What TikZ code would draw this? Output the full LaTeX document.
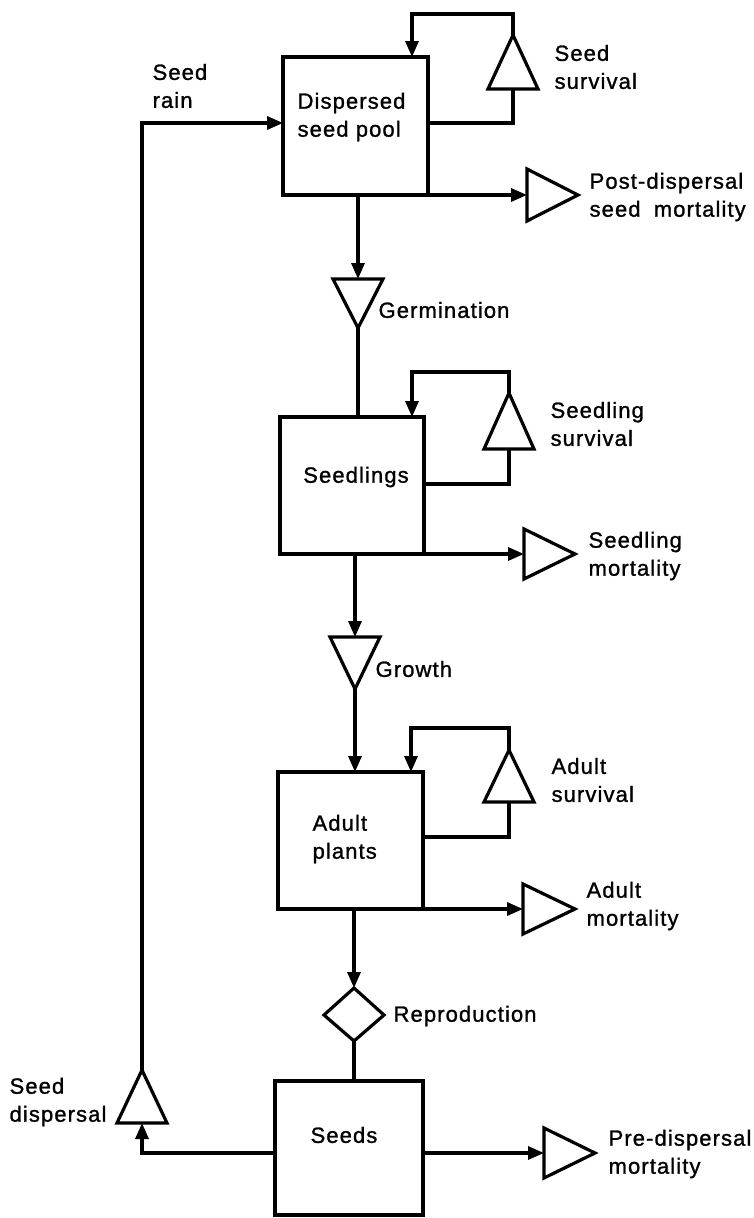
\documentclass[tikz,border=0pt]{standalone}
\usepackage{fontspec}
\setmainfont{Liberation Sans}[LetterSpace=5,FakeBold=1.2]
\usetikzlibrary{arrows.meta,calc}
\begin{document}
\begin{tikzpicture}[x=1pt,y=-1pt, line width=3.2pt, line join=miter,
  box/.style={draw, line width=3.2pt, inner sep=0pt, outer sep=0pt},
  lbl/.style={font=\fontsize{22}{28}\selectfont, anchor=west, align=left, inner sep=0pt},
  flow/.style={-{Triangle[length=16pt,width=13pt]}},
  tri/.style={draw, line width=3.2pt}]
\useasboundingbox (0,0) rectangle (754,1218);

% ---- boxes
\node[box, minimum width=145pt, minimum height=138pt] (pool)   at (355.5,126) {};
\node[box, minimum width=144pt, minimum height=137pt] (seedl)  at (352,485.5) {};
\node[box, minimum width=145pt, minimum height=137pt] (adult)  at (350.5,840.5) {};
\node[box, minimum width=148pt, minimum height=134pt] (seeds)  at (349,1148) {};

\node[lbl] (tpool)  at (296,117) {Dispersed\\seed pool};
\node[lbl, anchor=center] (tseedl) at (356,477) {Seedlings};
\node[lbl] (tadult) at (311,839) {Adult\\plants};
\node[lbl, anchor=center] (tseeds) at (344,1135) {Seeds};

% ---- key coordinates of valves
\coordinate (ssA) at (513,35);   \coordinate (ssB) at (513,89);   \coordinate (ssTop) at (412,14);
\coordinate (slA) at (509,393);  \coordinate (slB) at (509,449);  \coordinate (slTop) at (412,372);
\coordinate (asA) at (509,750);  \coordinate (asB) at (509,802);  \coordinate (asTop) at (411,728);
\coordinate (pdL) at (527,195);
\coordinate (smL) at (524,554);
\coordinate (amL) at (523,909);
\coordinate (preL) at (544,1153);
\coordinate (gT) at (358,279);   \coordinate (gA) at (358,328);
\coordinate (grT) at (355,637);  \coordinate (grA) at (355,689);
\coordinate (rT) at (354,988);   \coordinate (rB) at (354,1041);
\coordinate (rL) at (324,1015);  \coordinate (rR) at (384,1015);
\coordinate (sdA) at (142,1070); \coordinate (sdB) at (142,1123);

% ---- survival triangles (pointing up)
\draw[tri] (ssA) -- ($(ssB)+(-25,0)$) -- ($(ssB)+(25,0)$) -- cycle;
\draw[tri] (slA) -- ($(slB)+(-25,0)$) -- ($(slB)+(25,0)$) -- cycle;
\draw[tri] (asA) -- ($(asB)+(-25,0)$) -- ($(asB)+(25,0)$) -- cycle;
\draw[tri] (sdA) -- ($(sdB)+(-25,0)$) -- ($(sdB)+(25,0)$) -- cycle;

% ---- mortality triangles (pointing right)
\draw[tri] ($(pdL)+(0,-26)$) -- ($(pdL)+(51,0)$) -- ($(pdL)+(0,26)$) -- cycle;
\draw[tri] ($(smL)+(0,-25)$) -- ($(smL)+(51,0)$) -- ($(smL)+(0,25)$) -- cycle;
\draw[tri] ($(amL)+(0,-25)$) -- ($(amL)+(52,0)$) -- ($(amL)+(0,25)$) -- cycle;
\draw[tri] ($(preL)+(0,-25)$) -- ($(preL)+(51,0)$) -- ($(preL)+(0,25)$) -- cycle;

% ---- transition triangles (pointing down) and diamond
\draw[tri] ($(gT)+(-25,0)$) -- ($(gT)+(25,0)$) -- (gA) -- cycle;
\draw[tri] ($(grT)+(-25,0)$) -- ($(grT)+(25,0)$) -- (grA) -- cycle;
\draw[tri] (rT) -- (rR) -- (rB) -- (rL) -- cycle;

% ---- survival loops
\draw (pool.east |- 0,123) -| (ssB);
\draw[flow] (ssA) |- (ssTop) -- (ssTop |- pool.north);
\draw (seedl.east |- 0,484) -| (slB);
\draw[flow] (slA) |- (slTop) -- (slTop |- seedl.north);
\draw (adult.east |- 0,837) -| (asB);
\draw[flow] (asA) |- (asTop) -- (asTop |- adult.north);

% ---- mortality flows
\draw[flow] (pool.south east) -- (pdL);
\draw[flow] (seedl.south east) -- (smL);
\draw[flow] (adult.south east) -- (amL);
\draw[flow] (seeds.east |- preL) -- (preL);

% ---- main chain
\draw[flow] (gT |- pool.south) -- (gT);
\draw (gA) -- (gA |- seedl.north);
\draw[flow] (grT |- seedl.south) -- (grT);
\draw[flow] (grA) -- (grA |- adult.north);
\draw[flow] (rT |- adult.south) -- (rT);
\draw (rB) -- (rB |- seeds.north);

% ---- seed dispersal and seed rain
\draw[flow] (seeds.west |- preL) -| (sdB);
\draw[flow] (sdA) |- (pool.west |- 0,123);

% ---- labels
\node[lbl] (lss)  at (553,67)   {Seed\\survival};
\node[lbl] (lpd)  at (588,197)  {Post-dispersal\\seed\hspace{0.6em}mortality};
\node[lbl] (lg)   at (377,310)  {Germination};
\node[lbl] (lsls) at (549,424)  {Seedling\\survival};
\node[lbl] (lsm)  at (587,556)  {Seedling\\mortality};
\node[lbl] (lgr)  at (374,669)  {Growth};
\node[lbl] (las)  at (550,780)  {Adult\\survival};
\node[lbl] (lam)  at (585,906)  {Adult\\mortality};
\node[lbl] (lr)   at (392,1016) {Reproduction};
\node[lbl] (lpre) at (607,1154) {Pre-dispersal\\mortality};
\node[lbl] (lsd)  at (8,1102)   {Seed\\dispersal};
\node[lbl] (lsr)  at (151,86)   {Seed\\rain};
\end{tikzpicture}
\end{document}
